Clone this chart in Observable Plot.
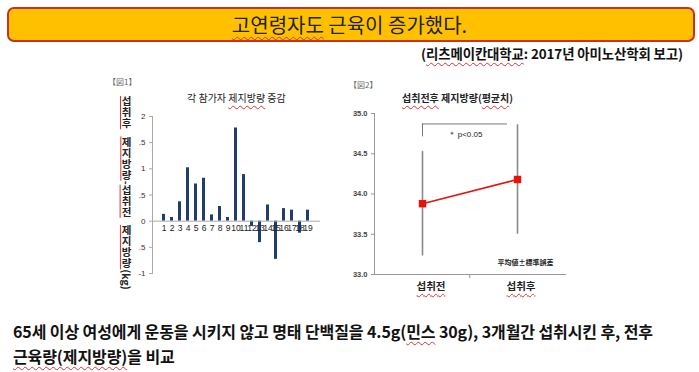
<!DOCTYPE html>
<html><head><meta charset="utf-8">
<script src="https://cdn.jsdelivr.net/npm/d3@7"></script>
<script src="https://cdn.jsdelivr.net/npm/@observablehq/plot@0.6"></script>
<style>
html,body{margin:0;padding:0;background:#fff;}
body{width:699px;height:372px;position:relative;overflow:hidden;font-family:"Noto Sans CJK KR","Noto Sans",sans-serif;color:#111;}
.abs{position:absolute;white-space:nowrap;}
.wavy{text-decoration:underline wavy #d33;text-decoration-thickness:1px;text-underline-offset:3px;}
#titlebox{left:7px;top:7px;width:688px;height:35px;box-sizing:border-box;background:#FFC000;border:2px solid #C8311E;border-radius:7px;}
#title{left:0;width:699px;top:7px;text-align:center;font-size:20px;line-height:35px;color:#222;}
#source{right:16px;top:43px;font-size:13.4px;font-weight:bold;line-height:20px;letter-spacing:-0.1px;}
.fig{font-size:8px;color:#666;}
.ctitle{font-size:10px;color:#222;}
#ylab{left:119px;top:96px;writing-mode:vertical-rl;text-orientation:upright;font-size:10.5px;font-weight:bold;line-height:14px;color:#222;letter-spacing:0.6px;}
#ylab .u{text-decoration:underline solid #d33;text-underline-position:left;text-decoration-thickness:1px;}
#ylab .sw{text-orientation:sideways;letter-spacing:0;}
#ylab .gap{display:inline-block;height:7px;}
.xl{font-size:10.5px;font-weight:bold;color:#222;width:60px;text-align:center;line-height:14px;}
#bottom{left:13px;top:319px;font-size:16px;font-weight:bold;line-height:25px;letter-spacing:-0.1px;}
#c1,#c2{position:absolute;}
#c1{left:110px;top:70px;}
#c2{left:340px;top:70px;}
</style></head>
<body>
<div id="titlebox" class="abs"></div>
<div id="title" class="abs"><span class="wavy">고연령자도</span> 근육이 증가했다.</div>
<div id="source" class="abs">(<span class="wavy">리츠메이칸대학교</span>: 2017년 아미노산학회 보고)</div>

<div class="abs fig" style="left:108px;top:76px;">【図1】</div>
<div class="abs ctitle" style="left:187px;top:90px;">각 참가자 <span class="wavy">제지방량</span> 증감</div>
<div id="ylab" class="abs"><span class="u">섭취후</span><span class="gap"></span><span class="u">제지방량</span><span class="sw">-</span><span class="u">섭취전</span><span class="gap"></span><span class="u">제지방량</span><span class="sw">(kg)</span></div>

<div class="abs fig" style="left:349px;top:79px;">【図2】</div>
<div class="abs ctitle" style="left:402px;top:90px;font-weight:bold;"><span class="wavy">섭취전후</span> 제지방량(<span class="wavy">평균치</span>)</div>

<div id="c1"></div>
<div id="c2"></div>

<div class="abs xl" style="left:401px;top:279px;"><span class="wavy">섭취전</span></div>
<div class="abs xl" style="left:491px;top:279px;"><span class="wavy">섭취후</span></div>

<div id="bottom" class="abs">65세 이상 여성에게 운동을 시키지 않고 명태 단백질을 4.5g(<span class="wavy">민스</span> 30g), 3개월간 섭취시킨 후, 전후<br><span class="wavy">근육량(제지방량)</span>을 비교</div>

<script>
// ---- Figure 1 data ----
const participants = ["1","2","3","4","5","6","7","8","9","10","11","12","13","14","15","16","17","18","19"];
const fatFreeChange = [0.13,0.07,0.37,1.02,0.71,0.82,0.12,0.28,0.07,1.78,0.89,-0.10,-0.41,0.31,-0.73,0.24,0.21,-0.23,0.21];
const yTicks1 = [2,1.5,1,0.5,0,-0.5,-1];
const yTickLabels1 = ["2",".5","1",".5","0",".5","-1"];

// ---- Figure 2 data ----
const phases = ["섭취전","섭취후"];
const meanFFM = [33.88, 34.18];
const sdFFM = [0.65, 0.68];
const yTicks2 = [33.0,33.5,34.0,34.5,35.0];
const sigLabel = "＊ p<0.05";
const errNote = "平均値±標準誤差";

const d1 = participants.map((p,i)=>({p, v: fatFreeChange[i]}));
const lab1 = new Map(yTicks1.map((t,i)=>[t, yTickLabels1[i]]));

const chart1 = Plot.plot({
  width: 230, height: 220,
  marginLeft: 42, marginRight: 20, marginTop: 46, marginBottom: 17,
  style: {fontFamily: "Liberation Sans, Arial, sans-serif", background: "transparent"},
  x: {domain: participants, padding: 0.6, axis: null},
  y: {domain: [-1, 2], axis: null, label: null},
  marks: [
    Plot.barY(d1, {x: "p", y: "v", fill: "#1F3D6E"}),
    Plot.ruleY([0], {stroke: "#aaa", strokeWidth: 1}),
    Plot.axisY({ticks: yTicks1, tickFormat: d => lab1.get(d), label: null, tickSize: 3, tickPadding: 4, fontSize: 8, stroke: "#aaa", color: "#333"}),
    Plot.frame({anchor: "left", stroke: "#aaa"}),
    Plot.text(d1, {x: "p", y: 0, text: "p", dy: 7, fontSize: 8.5, fill: "#222"})
  ]
});
document.getElementById("c1").appendChild(chart1);

const d2 = phases.map((ph,i)=>({ph, m: meanFFM[i], lo: meanFFM[i]-sdFFM[i], hi: meanFFM[i]+sdFFM[i]}));
const bracketTop = d3.max(d2, d => d.hi) + 0.01;
const bracketDrop = bracketTop - 0.16;

const chart2 = Plot.plot({
  width: 260, height: 220,
  marginLeft: 34, marginRight: 35, marginTop: 43, marginBottom: 16,
  style: {fontFamily: "Liberation Sans, Arial, sans-serif", background: "transparent"},
  x: {type: "point", domain: phases, padding: 0.5, axis: null},
  y: {domain: [33, 35], axis: null, label: null},
  marks: [
    Plot.axisY({ticks: yTicks2, tickFormat: d3.format(".1f"), label: null, tickSize: 3, tickPadding: 4, fontSize: 7.5, fontWeight: "bold", stroke: "#999", color: "#444"}),
    Plot.frame({anchor: "left", stroke: "#999"}),
    Plot.frame({anchor: "bottom", stroke: "#999"}),
    Plot.ruleX([phases[1]], {y1: 33, y2: 33, insetBottom: -4, dx: -47.75, stroke: "#999"}),
    Plot.ruleX(d2, {x: "ph", y1: "lo", y2: "hi", stroke: "#8a8a8a", strokeWidth: 1.6}),
    Plot.ruleY([bracketTop], {x1: () => phases[0], x2: () => phases[1], insetRight: 10, stroke: "#777", strokeWidth: 1}),
    Plot.ruleX([phases[0]], {y1: bracketDrop, y2: bracketTop, stroke: "#777", strokeWidth: 1}),
    Plot.text([sigLabel], {x: () => phases[0], y: bracketTop - 0.13, text: d => d, textAnchor: "start", dx: 25, fontSize: 8, fill: "#222"}),
    Plot.line(d2, {x: "ph", y: "m", stroke: "#E8120C", strokeWidth: 1.6}),
    Plot.dot(d2, {x: "ph", y: "m", symbol: "square", r: 4.2, fill: "#E8120C", stroke: "none"}),
    Plot.text([errNote], {frameAnchor: "bottom-right", text: d => d, dx: -12, dy: -10, fontSize: 7, fontWeight: "bold", fill: "#222", fontFamily: "Noto Sans CJK JP"})
  ]
});
document.getElementById("c2").appendChild(chart2);
</script>
</body></html>
